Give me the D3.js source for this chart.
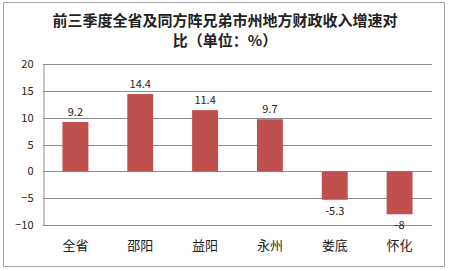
<!DOCTYPE html>
<html>
<head>
<meta charset="utf-8">
<script src="https://cdn.jsdelivr.net/npm/d3@7"></script>
<style>
  body { margin: 0; background: #fff; }
  text { font-family: "Noto Sans CJK SC", "DejaVu Sans", sans-serif; }
</style>
</head>
<body>
<svg id="chart"></svg>
<script>
        const cities = ['全省', '邵阳', '益阳', '永州', '娄底', '怀化']
        const growth = [9.2, 14.4, 11.4, 9.7, -5.3, -8]
        const yTicks = [-10, -5, 0, 5, 10, 15, 20]
        const titleLines = ['前三季度全省及同方阵兄弟市州地方财政收入增速对', '比（单位：%）']

        const w = 450
        const h = 271
        const barColor = '#c0504d'
        const margin = {left: 43, right: 18, top: 64, bottom: 46}

        let svg = d3.select('#chart')
            .attr('width', w)
            .attr('height', h)

        // outer chart frame
        svg.append('rect')
            .attr('x', 3.5).attr('y', 2.5)
            .attr('width', 441).attr('height', 264)
            .attr('fill', '#fff')
            .attr('stroke', '#a6a6a6')

        svg.selectAll('.title')
            .data(titleLines)
            .enter().append('text')
                .attr('class', 'title')
                .attr('x', 225)
                .attr('y', (d, i) => 26 + i * 20)
                .attr('text-anchor', 'middle')
                .attr('font-size', 15)
                .attr('font-weight', 'bold')
                .attr('fill', '#222')
                .text(d => d)

        let x = d3.scaleBand(cities, [margin.left, w - margin.right]).paddingInner(0.6).paddingOuter(0.3)
        let y = d3.scaleLinear([-10, 20], [h - margin.bottom, margin.top])

        // gridlines
        svg.append('g')
            .selectAll('line')
            .data(yTicks)
            .enter().append('line')
                .attr('x1', margin.left)
                .attr('x2', w - margin.right)
                .attr('y1', d => Math.round(y(d)) + 0.5)
                .attr('y2', d => Math.round(y(d)) + 0.5)
                .attr('stroke', '#8c8c8c')

        let yAxis = svg.append('g')
            .attr('transform', `translate(${margin.left + 0.5}, 0)`)
            .call(d3.axisLeft(y).tickValues(yTicks).tickSize(0).tickPadding(10))
        yAxis.select('.domain').attr('stroke', '#8c8c8c')
        yAxis.selectAll('text')
            .attr('font-size', 11)
            .attr('fill', '#222')
            .attr('font-family', 'DejaVu Sans, sans-serif')

        svg.append('g')
            .selectAll('rect')
            .data(growth)
            .enter().append('rect')
                .attr('x', (d, i) => x(cities[i]))
                .attr('width', x.bandwidth())
                .attr('y', d => y(Math.max(0, d)))
                .attr('height', d => Math.abs(y(d) - y(0)))
                .attr('fill', barColor)

        svg.append('g')
            .selectAll('text')
            .data(growth)
            .enter().append('text')
                .attr('x', (d, i) => x(cities[i]) + x.bandwidth() / 2)
                .attr('y', d => d >= 0 ? y(d) - 6 : y(d) + 15)
                .attr('text-anchor', 'middle')
                .attr('font-size', 11)
                .attr('font-family', 'DejaVu Sans, sans-serif')
                .attr('fill', '#222')
                .text(d => d)

        let xAxis = svg.append('g')
            .attr('transform', `translate(0, ${h - margin.bottom})`)
            .call(d3.axisBottom(x).tickSize(0).tickPadding(16))
        xAxis.select('.domain').remove()
        xAxis.selectAll('text')
            .attr('font-size', 13)
            .attr('fill', '#222')
            .attr('font-family', '"Noto Sans CJK SC", sans-serif')
</script>
</body>
</html>
